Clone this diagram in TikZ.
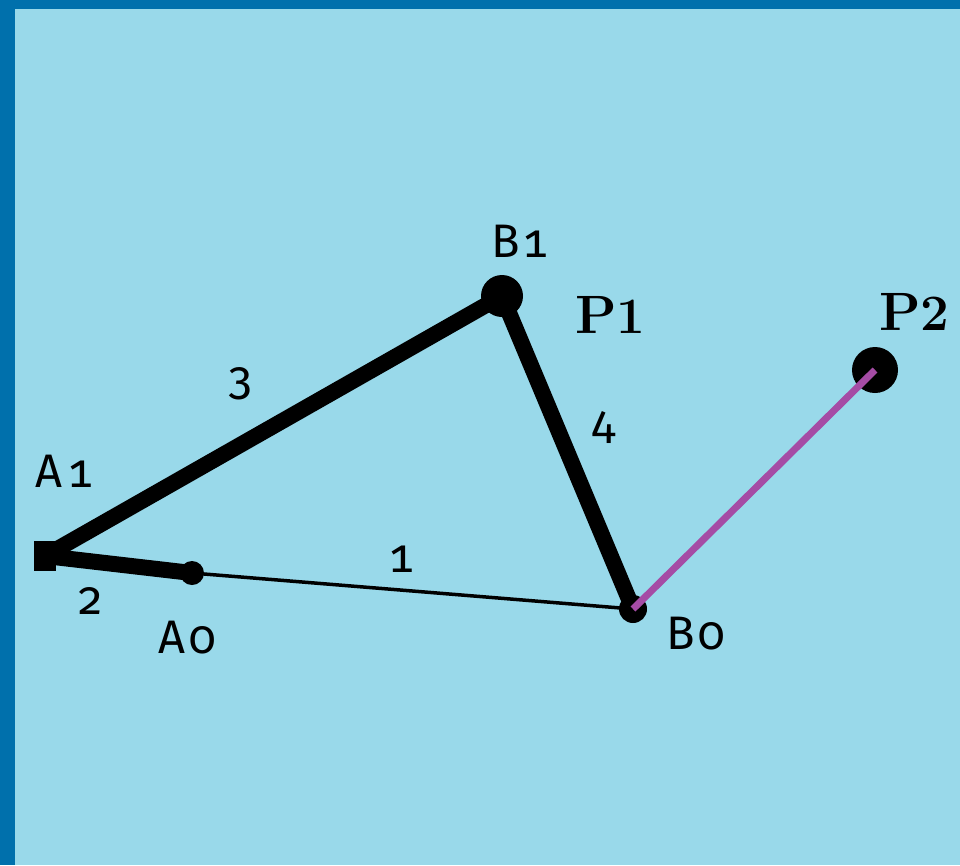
\documentclass[tikz,border=0pt]{standalone}
\usepackage{fontspec}
\newfontfamily\lblfont[Numbers={OldStyle,Monospaced}]{Fira Sans}
\definecolor{bgblue}{RGB}{153,217,234}
\definecolor{edgeblue}{RGB}{0,112,172}
\definecolor{linkpurple}{RGB}{165,76,165}
\tikzset{
  lbl/.style={inner sep=0pt, font=\lblfont\fontsize{47}{47}\selectfont},
  plbl/.style={inner sep=0pt, font=\bfseries\fontsize{54}{54}\selectfont},
  thickbar/.style={line width=16pt, line cap=round},
  thinbar/.style={line width=3.5pt},
  purplebar/.style={line width=7pt, draw=linkpurple},
  joint/.style={circle, fill=black, inner sep=0pt}
}
\begin{document}
\begin{tikzpicture}[x=1pt,y=-1pt]
\useasboundingbox (0,0) rectangle (960,865);
\fill[bgblue] (0,0) rectangle (960,865);
\fill[edgeblue] (0,0) rectangle (15,865);
\fill[edgeblue] (0,0) rectangle (960,9);
% points
\coordinate (A1) at (45,556);
\coordinate (A0) at (192,573);
\coordinate (B1) at (502,296);
\coordinate (B0) at (633,609);
\coordinate (P2) at (875,370);
% links
\draw[thinbar] (A0) -- (B0);
\draw[thickbar] (A1) -- (B1);
\draw[thickbar] (A1) -- (A0);
\draw[thickbar] (B1) -- (B0);
% joints
\node[joint, minimum size=24pt] (jA0) at (A0) {};
\node[joint, minimum size=42pt] (jB1) at (B1) {};
\node[joint, minimum size=28pt] (jB0) at (B0) {};
\node[joint, minimum size=46pt] (jP2) at (P2) {};
\node[fill=black, inner sep=0pt, minimum width=22pt, minimum height=30pt] (jA1) at (A1) {};
\draw[purplebar] (jB0.center) -- (jP2.center);
% labels
\node[lbl, anchor=base west] (lA1) at (35,487) {A\kern5pt1};
\node[lbl, anchor=base west] (lA0) at (158,653) {A\kern4pt0};
\node[lbl, anchor=base west] (lB1) at (491,257) {B\kern3pt1};
\node[lbl, anchor=base west] (lB0) at (666,649) {B\kern4pt0};
\node[lbl, anchor=base] (n1) at (402,572) {1};
\node[lbl, anchor=base] (n2) at (91,614) {2};
\node[lbl, anchor=base] (n3) at (241,394) {3};
\node[lbl, anchor=base] (n4) at (604,438) {4};
\node[plbl, anchor=base west] (lP1) at (575,333) {P{\fontsize{51}{51}\selectfont 1}};
\node[plbl, anchor=base west] (lP2) at (879,330) {P{\fontsize{51}{51}\selectfont 2}};
\end{tikzpicture}
\end{document}
